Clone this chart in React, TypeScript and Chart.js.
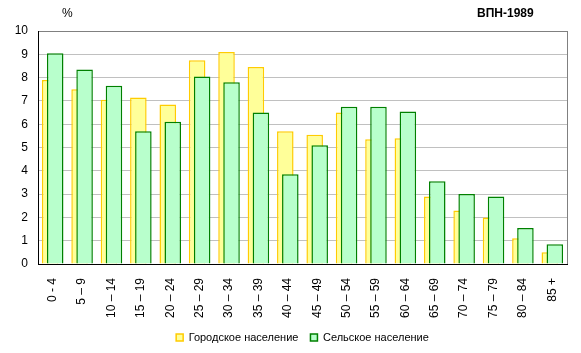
import React, { useEffect, useRef } from "react";
import { Chart, registerables } from "chart.js";

Chart.register(...registerables);

const categories = [
  "0 - 4", "5 – 9", "10 – 14", "15 – 19", "20 – 24", "25 – 29", "30 – 34", "35 – 39", "40 – 44",
  "45 – 49", "50 – 54", "55 – 59", "60 – 64", "65 – 69", "70 – 74", "75 – 79", "80 – 84", "85 +",
];
const urbanLabel = "Городское население";
const ruralLabel = "Сельское население";
const urban = [7.9, 7.5, 7.05, 7.15, 6.85, 8.75, 9.1, 8.45, 5.7, 5.55, 6.5, 5.35, 5.4, 2.9, 2.3, 2.0, 1.1, 0.5];
const rural = [9.05, 8.35, 7.65, 5.7, 6.1, 8.05, 7.8, 6.5, 3.85, 5.1, 6.75, 6.75, 6.55, 3.55, 3.0, 2.9, 1.55, 0.85];
const yMin = 0;
const yMax = 10;
const yStep = 1;
const unitText = "%";
const titleText = "ВПН-1989";

const FONT = "'Liberation Sans', Arial, sans-serif";

const framePlugin = {
  id: "framePlugin",
  beforeDatasetsDraw(chart: any) {
    const metas = chart.getSortedVisibleDatasetMetas();
    // draw in dataset index order so the rural (green) bars sit on top
    const sorted = [...metas].sort((a: any, b: any) => a.index - b.index);
    const { ctx, chartArea } = chart;
    ctx.save();
    ctx.beginPath();
    ctx.rect(chartArea.left, chartArea.top - 2, chartArea.right - chartArea.left, chartArea.bottom - chartArea.top + 2);
    ctx.clip();
    sorted.forEach((m: any) => m.controller.draw());
    ctx.restore();
    return false;
  },
  afterDraw(chart: any) {
    const { ctx, chartArea } = chart;
    ctx.save();
    ctx.strokeStyle = "#808080";
    ctx.lineWidth = 1;
    ctx.beginPath();
    const x = Math.round(chartArea.right) + 0.5;
    ctx.moveTo(x, chartArea.top);
    ctx.lineTo(x, chartArea.bottom);
    ctx.stroke();
    ctx.fillStyle = "#000";
    ctx.textBaseline = "middle";
    ctx.font = `12px ${FONT}`;
    ctx.textAlign = "left";
    ctx.fillText(unitText, 62, 14);
    ctx.font = `bold 12px ${FONT}`;
    ctx.fillText(titleText, 477, 14);
    ctx.restore();
  },
};

export default function App() {
  const ref = useRef<HTMLCanvasElement | null>(null);
  useEffect(() => {
    if (!ref.current) return;
    const chart = new Chart(ref.current, {
      type: "bar",
      data: {
        labels: categories,
        datasets: [
          {
            label: urbanLabel,
            data: urban,
            backgroundColor: "#FFFF99",
            borderColor: "#FFCC00",
            borderWidth: 1.5,
          },
          {
            label: ruralLabel,
            data: rural,
            backgroundColor: "#B8FFCC",
            borderColor: "#008000",
            borderWidth: 1.5,
          },
        ],
      },
      options: {
        animation: false,
        responsive: false,
        categoryPercentage: 0.341,
        barPercentage: 3.3,
        layout: { padding: { top: 31, right: 14, left: 0, bottom: 0 } },
        plugins: {
          legend: {
            position: "bottom",
            fullSize: false,
            labels: {
              boxWidth: 7,
              boxHeight: 7,
              padding: 12,
              color: "#000",
              font: { family: FONT, size: 11 },
            },
          },
          tooltip: { enabled: false },
        },
        scales: {
          x: {
            grid: { display: false },
            border: { color: "#000", width: 1, z: 1 },
            ticks: {
              color: "#000",
              font: { family: FONT, size: 12 },
              minRotation: 90,
              maxRotation: 90,
              autoSkip: false,
              padding: 6,
            },
            afterFit(scale: any) {
              scale.height = 56;
            },
          },
          y: {
            min: yMin,
            max: yMax,
            ticks: {
              stepSize: yStep,
              color: "#000",
              font: { family: FONT, size: 12 },
              padding: 10,
            },
            grid: {
              drawTicks: false,
              color: (c: any) => (c.tick && c.tick.value === yMax ? "#808080" : "#C0C0C0"),
            },
            border: { color: "#000", width: 1, z: 1 },
            afterFit(scale: any) {
              scale.width = 38;
            },
          },
        },
      },
      plugins: [framePlugin],
    });
    return () => chart.destroy();
  }, []);
  return (
    <div style={{ position: "absolute", left: 0, top: 0, width: 581, height: 353, background: "#fff" }}>
      <canvas ref={ref} width={581} height={353} />
    </div>
  );
}
